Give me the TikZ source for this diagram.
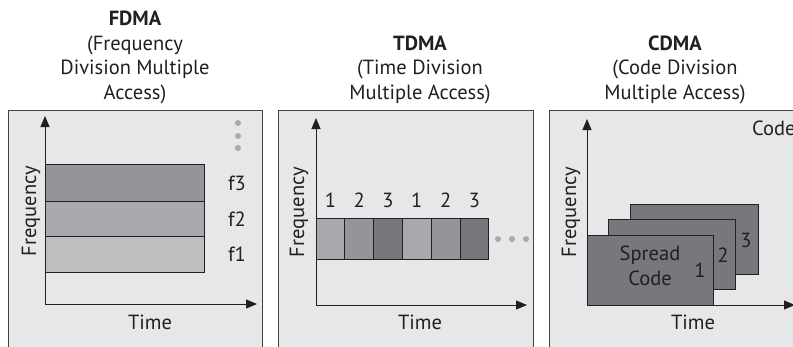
\documentclass[tikz,border=0pt]{standalone}
\usepackage{fontspec}
\setmainfont{PT Sans}
\usetikzlibrary{arrows.meta,positioning}
\definecolor{panel}{RGB}{230,231,232}
\definecolor{lightbar}{RGB}{188,190,192}
\definecolor{midbar}{RGB}{167,169,172}
\definecolor{darkbar}{RGB}{147,149,152}
\definecolor{deepbar}{RGB}{119,120,123}
\definecolor{ink}{RGB}{35,31,32}

\begin{document}
\begin{tikzpicture}[x=1pt, y=-1pt, font=\fontsize{20.5}{24.5}\selectfont,
        every node/.style={text=ink, inner sep=0pt},
        axis/.style={-{Triangle[length=11pt,width=9pt]}, line width=1pt, draw=ink},
        bar/.style={draw=ink, line width=1pt},
        frame/.style={fill=panel, draw=ink!85, line width=0.8pt},
        heading/.style={anchor=base, align=center},
        dot/.style={fill=midbar, draw=none}]

        \clip (0,0) rectangle (793,346);

        % Titles (base = last line)
        \node[heading] (fdma) at (135,99) {\textbf{FDMA}\\(Frequency\\Division Multiple\\Access)};
        \node[heading] (tdma) at (420,99) {\textbf{TDMA}\\(Time Division\\Multiple Access)};
        \node[heading] (cdma) at (675,99) {\textbf{CDMA}\\(Code Division\\Multiple Access)};

        % Panels
        \draw[frame] (8,110) rectangle (262,360);
        \draw[frame] (278,110) rectangle (533,360);
        \draw[frame] (549,110) rectangle (800,360);

        % FDMA: frequency bands
        \fill[darkbar] (45,164) rectangle (204,201);
        \fill[midbar] (45,201) rectangle (204,236);
        \fill[lightbar] (45,236) rectangle (204,272);
        \draw[bar] (45,164) rectangle (204,272);
        \draw[bar] (45,201) -- (204,201);
        \draw[bar] (45,236) -- (204,236);
        \node (f3) at (237,183) {f3};
        \node (f2) at (237,219) {f2};
        \node (f1) at (237,254) {f1};
        \foreach \y in {123,136,148}
            \fill[dot] (238,\y) circle (3pt);

        % FDMA axes
        \coordinate (fo) at (45,304);
        \coordinate (fy) at (45,116);
        \coordinate (fx) at (257,304);
        \draw[axis] (fo) -- (fy);
        \draw[axis] (fo) -- (fx);
        \node (ftime) at (150,322) {Time};
        \node[rotate=90] (ffreq) at (31,211) {Frequency};

        % TDMA: time slots
        \foreach \i/\n/\c in {0/1/midbar, 1/2/darkbar, 2/3/deepbar, 3/1/midbar, 4/2/darkbar, 5/3/deepbar} {
            \draw[bar, fill=\c] ({316+\i*28.8},218) rectangle ({316+(\i+1)*28.8},259);
            \node (slot\i) at ({330.4+\i*28.8},200) {\n};
        }
        \foreach \x in {498,512,526}
            \fill[dot] (\x,239) circle (3pt);

        % TDMA axes
        \coordinate (to) at (316,305);
        \coordinate (ty) at (316,118);
        \coordinate (tx) at (527,305);
        \draw[axis] (to) -- (ty);
        \draw[axis] (to) -- (tx);
        \node (ttime) at (420,322) {Time};
        \node[rotate=90] (tfreq) at (299,212) {Frequency};

        % CDMA: stacked spread codes
        \draw[bar, fill=deepbar] (630,204) rectangle (758,274);
        \draw[bar, fill=deepbar] (608,219) rectangle (735,289);
        \draw[bar, fill=deepbar] (587,235) rectangle (713,305);
        \node (c3) at (746,240) {3};
        \node (c2) at (723,255) {2};
        \node (c1) at (700,270) {1};
        \node[align=center] (spread) at (650,266) {Spread\\Code};
        \node[anchor=west] (code) at (752,128) {Code};

        % CDMA axes
        \coordinate (co) at (587,305);
        \coordinate (cy) at (587,119);
        \coordinate (cx) at (795,305);
        \draw[axis] (co) -- (cy);
        \draw[axis] (co) -- (cx);
        \node (ctime) at (693,322) {Time};
        \node[rotate=90] (cfreq) at (571,212) {Frequency};
\end{tikzpicture}
\end{document}
